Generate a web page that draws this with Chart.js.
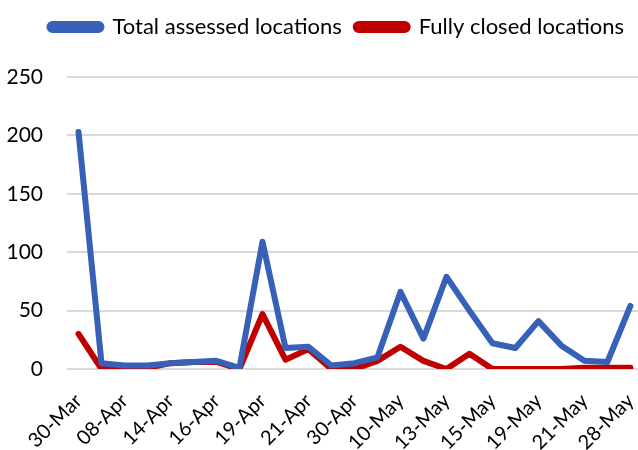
<!DOCTYPE html>
<html>
<head>
<meta charset="utf-8">
<script src="https://cdn.jsdelivr.net/npm/chart.js@4"></script>
<style>
  html, body { margin: 0; padding: 0; background: #fff; }
  #wrap { width: 638px; height: 450px; }
</style>
</head>
<body>
<div id="wrap"><canvas id="lineChart" width="638" height="450"></canvas></div>
<script>
// tick labels shown on the x axis (every second assessment round)
var tickLabels = ['30-Mar', '08-Apr', '14-Apr', '16-Apr', '19-Apr', '21-Apr', '30-Apr',
                  '10-May', '13-May', '15-May', '19-May', '21-May', '28-May'];
var totalAssessed = [203, 5, 3, 3, 5, 6, 7, 1, 109, 18, 19, 3, 5, 10, 66, 26, 79, 50, 22, 18, 41, 20, 7, 6, 54];
var fullyClosed = [30, 0, 1, 1, 5, 6, 6, 0, 47, 8, 17, 0, 0, 7, 19, 7, 0, 13, 0, 0, 0, 0, 1, 1, 1];
var yTicks = [0, 50, 100, 150, 200, 250];

function toPoints(arr) {
    return arr.map(function(v, i) { return { x: i, y: v }; });
}

// give the legend a fixed height so the plot starts where the original does
var legendHeight = {
    id: 'legendHeight',
    beforeInit: function(chart) {
        var fit = chart.legend.fit;
        chart.legend.fit = function() {
            fit.call(this);
            this.height = 75;
        };
    }
};

document.addEventListener('DOMContentLoaded', function() {
    var ctx = document.getElementById('lineChart').getContext('2d');
    new Chart(ctx, {
        type: 'line',
        data: {
            datasets: [
                {
                    label: 'Total assessed locations',
                    data: toPoints(totalAssessed),
                    borderColor: '#3761b8',
                    backgroundColor: '#3761b8',
                    borderWidth: 6,
                    pointRadius: 0,
                    tension: 0,
                    borderCapStyle: 'round',
                    borderJoinStyle: 'round'
                },
                {
                    label: 'Fully closed locations',
                    data: toPoints(fullyClosed),
                    borderColor: '#c00000',
                    backgroundColor: '#c00000',
                    borderWidth: 6,
                    pointRadius: 0,
                    tension: 0,
                    borderCapStyle: 'round',
                    borderJoinStyle: 'round'
                }
            ]
        },
        plugins: [legendHeight],
        options: {
            responsive: false,
            animation: false,
            layout: { padding: { top: 2, left: 0, right: 0, bottom: 0 } },
            plugins: {
                tooltip: { enabled: false },
                legend: {
                    position: 'top',
                    align: 'end',
                    labels: {
                        color: '#000',
                        font: { family: 'Lato', size: 22 },
                        boxWidth: 52,
                        boxHeight: 6,
                        useBorderRadius: true,
                        borderRadius: 3,
                        padding: 14
                    }
                }
            },
            scales: {
                x: {
                    type: 'linear',
                    min: -0.5,
                    max: 24.33,
                    grid: { display: false, drawTicks: false },
                    border: { display: false },
                    afterBuildTicks: function(scale) {
                        scale.ticks = tickLabels.map(function(l, i) { return { value: i * 2 }; });
                    },
                    afterFit: function(scale) {
                        scale.height = 81;
                        scale.paddingLeft = 0;
                        scale.paddingRight = 0;
                    },
                    ticks: {
                        color: '#000',
                        font: { family: 'Lato', size: 20 },
                        padding: 20,
                        maxRotation: 45,
                        minRotation: 45,
                        autoSkip: false,
                        callback: function(v) { return tickLabels[v / 2]; }
                    }
                },
                y: {
                    min: 0,
                    max: 250,
                    afterBuildTicks: function(scale) {
                        scale.ticks = yTicks.map(function(v) { return { value: v }; });
                    },
                    afterFit: function(scale) { scale.width = 67; },
                    grid: { color: '#d9d9d9', lineWidth: 2, drawTicks: false },
                    border: { display: false },
                    ticks: { color: '#000', font: { family: 'Lato', size: 21 }, padding: 24 }
                }
            }
        }
    });
});
</script>
</body>
</html>
